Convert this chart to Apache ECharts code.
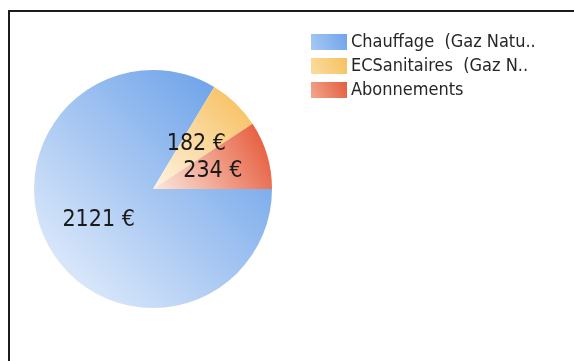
<!DOCTYPE html>
<html>
<head>
<meta charset="utf-8">
<script src="https://cdn.jsdelivr.net/npm/echarts@6/dist/echarts.min.js"></script>
<style>
  html, body { margin: 0; padding: 0; background: #fff; }
  #chart { width: 574px; height: 361px; }
</style>
</head>
<body>
<div id="chart"></div>
<script>
// Annual energy cost breakdown (euros)
const categories = ['Chauffage  (Gaz Naturel)', 'ECSanitaires  (Gaz Naturel)', 'Abonnements'];
const values = [2121, 182, 234];
// Slice gradient ends: pale at bottom-left, saturated at top-right
const lightColors = ['#eef4fd', '#fdf4e4', '#fbe9e0'];
const darkColors = ['#5a96e6', '#f7bb52', '#e4502e'];
// Legend swatch gradient ends
const swatchLight = ['#a8c9f3', '#fbdca0', '#f3a68e'];
const swatchDark = ['#6fa3ea', '#f6c15e', '#e25e3c'];

function grad(a, b) {
  return new echarts.graphic.LinearGradient(0, 1, 1, 0, [
    { offset: 0, color: a },
    { offset: 1, color: b }
  ]);
}

const chart = echarts.init(document.getElementById('chart'), null, { renderer: 'canvas' });

const textFont = "'DejaVu Sans Condensed', 'DejaVu Sans', sans-serif";

chart.setOption({
  animation: false,
  backgroundColor: '#ffffff',
  legend: {
    orient: 'vertical',
    left: 306,
    top: 27,
    itemWidth: 36,
    itemHeight: 16,
    itemGap: 4,
    icon: 'rect',
    data: categories.map(function (name, i) {
      return { name: name, itemStyle: { color: grad(swatchLight[i], swatchDark[i]) } };
    }),
    formatter: function (name) {
      return name.length > 20 ? name.slice(0, 20) + '..' : name;
    },
    textStyle: {
      fontFamily: textFont,
      fontSize: 18,
      lineHeight: 20,
      color: '#262626',
      padding: [0, 0, 0, -1]
    }
  },
  graphic: [
    { type: 'line', shape: { x1: 9, y1: 11, x2: 574, y2: 11 }, style: { stroke: '#1c1c1c', lineWidth: 2 } },
    { type: 'line', shape: { x1: 9, y1: 10, x2: 9, y2: 361 }, style: { stroke: '#1c1c1c', lineWidth: 2 } }
  ],
  series: [{
    type: 'pie',
    center: [153, 189],
    radius: [0, 119],
    startAngle: 0,
    clockwise: true,
    avoidLabelOverlap: false,
    label: {
      show: true,
      position: 'inside',
      formatter: function (p) { return p.value + ' €'; },
      fontFamily: textFont,
      fontSize: 23,
      color: '#1a1a1a'
    },
    labelLine: { show: false },
    itemStyle: { borderWidth: 0 },
    emphasis: { disabled: true },
    data: categories.map(function (name, i) {
      return { name: name, value: values[i], itemStyle: { color: grad(lightColors[i], darkColors[i]) } };
    })
  }]
});
</script>
</body>
</html>
